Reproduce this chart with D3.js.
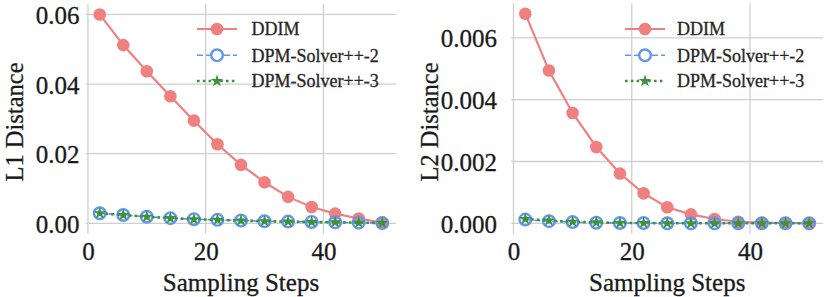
<!DOCTYPE html>
<html>
<head>
<meta charset="utf-8">
<script src="https://cdn.jsdelivr.net/npm/d3@7"></script>
<style>
  body { margin: 0; background: #fff; }
  svg { display: block; }
  svg text { font-family: "Liberation Serif", "Times New Roman", Times, serif; }
  .grid line { stroke: #cfcfcf; stroke-width: 1.3; }
</style>
</head>
<body>
<div id="graph"></div>
<script>
// sampling steps shared by both panels
var steps = [2, 6, 10, 14, 18, 22, 26, 30, 34, 38, 42, 46, 50];

// L1 distance
var l1Ddim = [0.0600, 0.0512, 0.0437, 0.0365, 0.0295, 0.0227, 0.0168, 0.0118, 0.0076, 0.0047, 0.0028, 0.0014, 0.0002];
var l1Dpm2 = [0.0029, 0.0024, 0.0019, 0.0015, 0.0012, 0.0010, 0.0008, 0.0006, 0.0005, 0.0004, 0.0003, 0.0002, 0.0001];
var l1Dpm3 = [0.0029, 0.0024, 0.0019, 0.0015, 0.0012, 0.0010, 0.0008, 0.0006, 0.0005, 0.0004, 0.0003, 0.0002, 0.0001];

// L2 distance
var l2Ddim = [0.00678, 0.00494, 0.00357, 0.00247, 0.00161, 0.00097, 0.00052, 0.00029, 0.00014, 0.00005, 0.00002, 0.00001, 0.0];
var l2Dpm2 = [0.00012, 0.00007, 0.00004, 0.00002, 0.00001, 0.00001, 0.0, 0.0, 0.0, 0.0, 0.0, 0.0, 0.0];
var l2Dpm3 = [0.00014, 0.00009, 0.00005, 0.00003, 0.00001, 0.00001, 0.0, 0.0, 0.0, 0.0, 0.0, 0.0, 0.0];

var xTicks = [0, 20, 40];
var l1Ticks = [0, 0.02, 0.04, 0.06];
var l2Ticks = [0, 0.002, 0.004, 0.006];
var seriesNames = ["DDIM", "DPM-Solver++-2", "DPM-Solver++-3"];

var red = "#f08080", blue = "#6495ed", green = "#3a923a";
var serif = "Liberation Serif";
var ink = "#1a1a1a";

var width = 830, height = 297;
var chart = d3.select("#graph").append("svg")
    .attr("width", width)
    .attr("height", height)
    .attr("font-family", serif);

// serif text looks a little heavier in the original, so give it a faint outline
function heavy(sel, col) {
  sel.attr("fill", col).attr("stroke", col).attr("stroke-width", 0.3);
}

function panel(opt) {
  var x = d3.scaleLinear().domain([-0.4, 52.4]).range([opt.left, opt.right]);
  var yMax = d3.max(opt.ddim);
  var pad = yMax * 0.05;
  var y = d3.scaleLinear().domain([-pad, yMax + pad]).range([233.8, opt.top]);

  var g = chart.append("g");

  // grid
  g.append("g").attr("class", "grid")
    .selectAll("line.v").data(xTicks).enter().append("line")
    .attr("x1", function(d) { return x(d); })
    .attr("x2", function(d) { return x(d); })
    .attr("y1", y.range()[0]).attr("y2", y.range()[1]);
  g.append("g").attr("class", "grid")
    .selectAll("line.h").data(opt.yTicks).enter().append("line")
    .attr("x1", x.range()[0]).attr("x2", x.range()[1])
    .attr("y1", function(d) { return y(d); })
    .attr("y2", function(d) { return y(d); });

  // axes (labels only, no domain/ticks)
  var xAxis = g.append("g")
    .attr("transform", "translate(0," + y.range()[0] + ")")
    .call(d3.axisBottom(x).tickValues(xTicks).tickSize(0).tickPadding(8.5).tickFormat(d3.format("d")));
  var yAxis = g.append("g")
    .attr("transform", "translate(" + x.range()[0] + ",0)")
    .call(d3.axisLeft(y).tickValues(opt.yTicks).tickSize(0).tickPadding(opt.tickPad).tickFormat(d3.format(opt.fmt)));
  [xAxis, yAxis].forEach(function(a) {
    a.attr("font-family", serif).attr("font-size", 25);
    a.select(".domain").remove();
    heavy(a.selectAll("text"), ink);
  });
  yAxis.selectAll("text").attr("dy", "0.36em");

  heavy(g.append("text")
    .attr("x", (x.range()[0] + x.range()[1]) / 2)
    .attr("y", 291)
    .attr("text-anchor", "middle")
    .attr("font-size", 25)
    .text("Sampling Steps"), ink);
  heavy(g.append("text")
    .attr("transform", "translate(" + opt.labelX + ",122) rotate(-90)")
    .attr("text-anchor", "middle")
    .attr("font-size", 24.5)
    .text(opt.yLabel), ink);

  var line = d3.line()
    .x(function(d, i) { return x(steps[i]); })
    .y(function(d) { return y(d); });

  // DDIM
  g.append("path").attr("d", line(opt.ddim))
    .attr("fill", "none").attr("stroke", red).attr("stroke-width", 2.2);
  g.selectAll("circle.ddim").data(opt.ddim).enter().append("circle")
    .attr("class", "ddim")
    .attr("cx", function(d, i) { return x(steps[i]); })
    .attr("cy", function(d) { return y(d); })
    .attr("r", 6.3)
    .attr("fill", red);

  // DPM-Solver++-2
  g.append("path").attr("d", line(opt.dpm2))
    .attr("fill", "none").attr("stroke", blue).attr("stroke-width", 1.6)
    .attr("stroke-dasharray", "6,3");
  g.selectAll("circle.dpm2").data(opt.dpm2).enter().append("circle")
    .attr("class", "dpm2")
    .attr("cx", function(d, i) { return x(steps[i]); })
    .attr("cy", function(d) { return y(d); })
    .attr("r", 5.8)
    .attr("fill", "none")
    .attr("stroke", blue)
    .attr("stroke-width", 2.4);

  // DPM-Solver++-3
  var star = d3.symbol().type(d3.symbolStar).size(48);
  g.append("path").attr("d", line(opt.dpm3))
    .attr("fill", "none").attr("stroke", green).attr("stroke-width", 2.6)
    .attr("stroke-dasharray", "2.6,3.2");
  g.selectAll("path.dpm3").data(opt.dpm3).enter().append("path")
    .attr("class", "dpm3")
    .attr("d", star)
    .attr("transform", function(d, i) { return "translate(" + x(steps[i]) + "," + y(d) + ")"; })
    .attr("fill", green);

  // legend
  var lg = g.append("g").attr("font-size", 18).attr("font-family", serif);
  var rows = [29, 55.3, 81];
  var lx0 = opt.legX, lx1 = opt.legX + 40, mx = opt.legX + 20;
  lg.append("line").attr("x1", lx0).attr("x2", lx1).attr("y1", rows[0]).attr("y2", rows[0])
    .attr("stroke", red).attr("stroke-width", 2.2);
  lg.append("circle").attr("cx", mx).attr("cy", rows[0]).attr("r", 6.3).attr("fill", red);
  lg.append("line").attr("x1", lx0).attr("x2", lx1).attr("y1", rows[1]).attr("y2", rows[1])
    .attr("stroke", blue).attr("stroke-width", 1.6).attr("stroke-dasharray", "6,3");
  lg.append("circle").attr("cx", mx).attr("cy", rows[1]).attr("r", 5.8)
    .attr("fill", "#fff").attr("stroke", blue).attr("stroke-width", 2.4);
  lg.append("line").attr("x1", lx0).attr("x2", lx1).attr("y1", rows[2]).attr("y2", rows[2])
    .attr("stroke", green).attr("stroke-width", 2.6).attr("stroke-dasharray", "2.6,3.2");
  lg.append("path").attr("d", star).attr("transform", "translate(" + mx + "," + rows[2] + ")")
    .attr("fill", green);
  heavy(lg.selectAll("text").data(seriesNames).enter().append("text")
    .attr("x", opt.textX)
    .attr("y", function(d, i) { return rows[i]; })
    .attr("dy", "0.35em")
    .text(function(d) { return d; }), "#262626");
}

panel({ left: 85.6, right: 396.4, top: 4, ddim: l1Ddim, dpm2: l1Dpm2, dpm3: l1Dpm3,
        yTicks: l1Ticks, fmt: ".2f", tickPad: 6, yLabel: "L1 Distance", labelX: 22.5,
        legX: 197, textX: 251.5 });
panel({ left: 511.1, right: 823.4, top: 3.2, ddim: l2Ddim, dpm2: l2Dpm2, dpm3: l2Dpm3,
        yTicks: l2Ticks, fmt: ".3f", tickPad: 14, yLabel: "L2 Distance", labelX: 438,
        legX: 625, textX: 677 });
</script>
</body>
</html>
